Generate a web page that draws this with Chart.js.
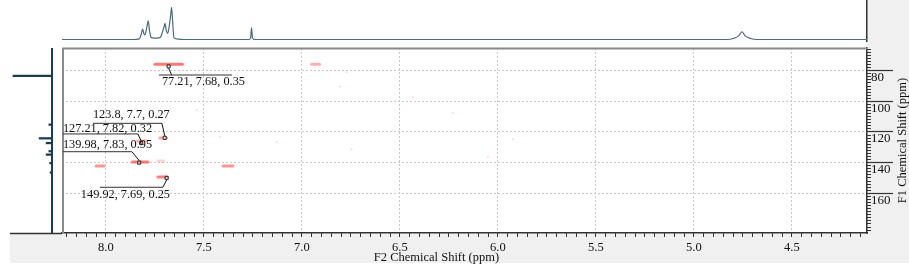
<!DOCTYPE html>
<html>
<head>
<meta charset="utf-8">
<script src="https://cdn.jsdelivr.net/npm/chart.js@4.4.1/dist/chart.umd.min.js"></script>
<style>
  html, body { margin: 0; padding: 0; background: #fff; }
  #wrap { position: relative; width: 909px; height: 265px; overflow: hidden; }
  #wrap canvas { position: absolute; }
  #main { left: 0; top: 0; }
  #top { left: 62px; top: 0; }
  #side { left: 0; top: 48px; }
</style>
</head>
<body>
<div id="wrap">
  <canvas id="main" width="909" height="265"></canvas>
  <canvas id="top" width="809" height="42"></canvas>
  <canvas id="side" width="56" height="185"></canvas>
</div>
<script>
// axis ranges (ppm)
var f2Range = [4.117, 8.224];
var f1Range = [65.2, 185.9];
var f2Ticks = [8.0, 7.5, 7.0, 6.5, 6.0, 5.5, 5.0, 4.5];
var f1Ticks = [80, 100, 120, 140, 160];

// 1H projection (top)
var topPpm = [8.224, 7.86, 7.830, 7.819, 7.813, 7.806, 7.801, 7.792, 7.784, 7.777, 7.770, 7.755, 7.740,
  7.722, 7.712, 7.704, 7.699, 7.692, 7.685, 7.676, 7.668, 7.665, 7.660, 7.653, 7.63, 7.60,
  7.27, 7.262, 7.257, 7.252, 7.24, 4.83, 4.80, 4.77, 4.755, 4.74, 4.71, 4.68, 4.117];
var topInt = [0, 0, 0.02, 0.18, 0.32, 0.18, 0.14, 0.35, 0.58, 0.25, 0.07, 0.04, 0.04,
  0.07, 0.22, 0.38, 0.50, 0.28, 0.19, 0.45, 0.85, 1.0, 0.6, 0.05, 0.01, 0,
  0, 0.05, 0.36, 0.05, 0, 0, 0.03, 0.12, 0.24, 0.12, 0.03, 0, 0];

// 13C projection (left)
var sidePpm = [76.3, 113.5, 123.9, 127.5, 133.7, 136.3, 142.8, 149.9];
var sideInt = [1.0, 0.08, 0.33, 0.15, 0.08, 0.15, 0.06, 0.05];

// cross peaks (contours)
var peakF2 = [7.68, 6.93, 7.707, 7.816, 7.825, 7.712, 8.03, 7.378, 7.72];
var peakF1 = [75.8, 75.8, 123.9, 125.9, 139.6, 149.4, 142.2, 142.2, 139];
var peakW = [0.14, 0.04, 0.035, 0.05, 0.08, 0.045, 0.04, 0.05, 0.03];
var peakInt = [0.9, 0.55, 0.6, 0.5, 0.85, 0.85, 0.7, 0.7, 0.3];

// faint noise spots
var noiseF2 = [6.772, 6.806, 6.435, 6.230, 6.746, 6.051, 5.923, 7.536, 7.418, 7.128];
var noiseF1 = [81.0, 90.4, 97.4, 107.4, 131.3, 136.1, 124.6, 105.6, 123.3, 126.5];

// peak labels
var labelF1 = [77.21, 123.8, 127.21, 139.98, 149.92];
var labelF2 = [7.68, 7.7, 7.82, 7.83, 7.69];
var labelInt = [0.35, 0.27, 0.32, 0.95, 0.25];

// label layout, pixels relative to the marker
var labelLayout = [
  { tx: -6.7, ty: 15, ux1: -9.7, ux2: 63.3, uy: 8.6, lx: 3 },
  { tx: -71.8, ty: -22.8, ux1: -71.8, ux2: -2.8, uy: -14.5, lx: -2.8 },
  { tx: -78.3, ty: -14.6, ux1: -78.3, ux2: -3.3, uy: -9.1, lx: -3.3 },
  { tx: -76.3, ty: -17.6, ux1: -76.3, ux2: -7.3, uy: -10.9, lx: -7.3 },
  { tx: -85.8, ty: 17.1, ux1: -66.8, ux2: -3.8, uy: 9.4, lx: -3.8 }
];

var serif = '"Liberation Serif", "Times New Roman", serif';
var gray = '#f0f0f0';
var axisColor = '#333';

// main 2D plot
var datasets = [];
datasets.push({
  data: labelF2.map(function (v, i) { return { x: v, y: labelF1[i] }; }),
  pointStyle: 'rect', pointRadius: 2.2, borderWidth: 1,
  borderColor: '#222', backgroundColor: 'rgba(255,255,255,0.5)', showLine: false
});
for (var i = 0; i < peakF2.length; i++) {
  datasets.push({
    data: [{ x: peakF2[i] - peakW[i] / 2, y: peakF1[i] }, { x: peakF2[i] + peakW[i] / 2, y: peakF1[i] }],
    showLine: true, pointRadius: 0, borderWidth: 3, borderCapStyle: 'round',
    borderColor: 'rgba(255,55,55,' + (peakInt[i] * 0.75).toFixed(2) + ')'
  });
}
datasets.push({
  data: noiseF2.map(function (v, i) { return { x: v, y: noiseF1[i] }; }),
  pointRadius: 1, borderWidth: 0, backgroundColor: 'rgba(255,120,120,0.3)', showLine: false
});

var framePlugin = {
  id: 'frame',
  beforeDraw: function (chart) {
    var ctx = chart.ctx, a = chart.chartArea;
    ctx.save();
    ctx.fillStyle = gray;
    ctx.fillRect(a.right, 0, 909 - a.right, 263);
    ctx.fillRect(10, a.bottom, a.right - 10, 263 - a.bottom);
    ctx.restore();
  },
  afterDatasetsDraw: function (chart) {
    var ctx = chart.ctx, a = chart.chartArea;
    var sx = chart.scales.x, sy = chart.scales.y;
    ctx.save();
    // left / top frame
    ctx.strokeStyle = '#8a8a8a';
    ctx.lineWidth = 2;
    ctx.beginPath();
    ctx.moveTo(a.left + 1, a.bottom);
    ctx.lineTo(a.left + 1, a.top + 0.5);
    ctx.lineTo(a.right, a.top + 0.5);
    ctx.stroke();
    ctx.strokeStyle = axisColor;
    ctx.lineWidth = 1.5;
    ctx.beginPath();
    ctx.moveTo(10, a.bottom + 0.5);
    ctx.lineTo(a.left, a.bottom + 0.5);
    ctx.stroke();
    // peak labels
    ctx.font = '12.3px ' + serif;
    ctx.textBaseline = 'middle';
    ctx.fillStyle = '#111';
    for (var i = 0; i < labelF1.length; i++) {
      var mx = sx.getPixelForValue(labelF2[i]);
      var my = sy.getPixelForValue(labelF1[i]);
      var L = labelLayout[i];
      ctx.strokeStyle = '#333';
      ctx.lineWidth = 1;
      ctx.beginPath();
      ctx.moveTo(mx + L.ux1, my + L.uy);
      ctx.lineTo(mx + L.ux2, my + L.uy);
      ctx.stroke();
      ctx.strokeStyle = '#111';
      ctx.beginPath();
      ctx.moveTo(mx + L.lx, my + L.uy);
      ctx.lineTo(mx, my + (L.uy > 0 ? 2 : -2));
      ctx.stroke();
      ctx.fillText(labelF1[i] + ', ' + labelF2[i] + ', ' + labelInt[i], mx + L.tx, my + L.ty);
    }
    ctx.restore();
  },
  afterDraw: function (chart) {
    var ctx = chart.ctx, a = chart.chartArea;
    ctx.save();
    ctx.fillStyle = '#111';
    ctx.font = '12.5px ' + serif;
    ctx.textAlign = 'center';
    ctx.textBaseline = 'middle';
    ctx.fillText('F2 Chemical Shift (ppm)', (10 + a.right) / 2 - 2, 257.5);
    ctx.translate(902.5, (a.top + a.bottom) / 2);
    ctx.rotate(-Math.PI / 2);
    ctx.fillText('F1 Chemical Shift (ppm)', 0, 0);
    ctx.restore();
  }
};

new Chart(document.getElementById('main'), {
  type: 'scatter',
  data: { datasets: datasets },
  options: {
    responsive: false,
    animation: false,
    events: [],
    layout: { padding: { left: 62, top: 48, right: 0, bottom: 0 } },
    plugins: { legend: { display: false }, tooltip: { enabled: false } },
    scales: {
      x: {
        type: 'linear', position: 'bottom', weight: 1, reverse: true,
        min: f2Range[0], max: f2Range[1],
        afterBuildTicks: function (s) { s.ticks = f2Ticks.map(function (v) { return { value: v }; }); },
        afterFit: function (s) { s.height = 32; },
        ticks: {
          autoSkip: false, maxRotation: 0, padding: 3, color: '#111',
          font: { family: serif, size: 12.5 },
          callback: function (v) { return v.toFixed(1); }
        },
        grid: { color: '#c8c8c8', lineWidth: 1, tickLength: 4, tickColor: axisColor, tickWidth: 1 },
        border: { color: axisColor, width: 1.5, dash: [2, 2] }
      },
      x2: {
        type: 'linear', position: 'bottom', weight: 0, reverse: true,
        min: f2Range[0], max: f2Range[1],
        afterFit: function (s) { s.height = 0; },
        ticks: { stepSize: 0.05, autoSkip: false, includeBounds: false, callback: function () { return ''; } },
        grid: { drawOnChartArea: false, tickLength: 4, tickColor: axisColor, tickWidth: 1 },
        border: { display: false }
      },
      y: {
        type: 'linear', position: 'right', weight: 1, reverse: true,
        min: f1Range[0], max: f1Range[1],
        afterBuildTicks: function (s) { s.ticks = f1Ticks.map(function (v) { return { value: v }; }); },
        afterFit: function (s) { s.width = 42; },
        ticks: {
          autoSkip: false, padding: -22, labelOffset: 7, color: '#111',
          font: { family: serif, size: 13 }
        },
        grid: { color: '#c8c8c8', lineWidth: 1, tickLength: 26, tickColor: axisColor, tickWidth: 1.2 },
        border: { color: axisColor, width: 1.5, dash: [2, 2] }
      },
      y2: {
        type: 'linear', position: 'right', weight: 0, reverse: true,
        min: f1Range[0], max: f1Range[1],
        afterFit: function (s) { s.width = 0; },
        ticks: { stepSize: 2, autoSkip: false, includeBounds: false, callback: function () { return ''; } },
        grid: { drawOnChartArea: false, tickLength: 4, tickColor: axisColor, tickWidth: 1 },
        border: { display: false }
      }
    }
  },
  plugins: [framePlugin]
});

// top 1H projection
new Chart(document.getElementById('top'), {
  type: 'line',
  data: {
    datasets: [{
      data: topPpm.map(function (v, i) { return { x: v, y: topInt[i] }; }),
      borderColor: '#4d6b77', borderWidth: 1.2, pointRadius: 0,
      cubicInterpolationMode: 'monotone'
    }]
  },
  options: {
    responsive: false,
    animation: false,
    events: [],
    layout: { padding: { left: 0, top: 0, right: 4, bottom: 1 } },
    plugins: { legend: { display: false }, tooltip: { enabled: false } },
    scales: {
      x: { type: 'linear', display: false, reverse: true, min: f2Range[0], max: f2Range[1] },
      y: {
        type: 'linear', position: 'right', min: -0.0466, max: 1.2267,
        afterFit: function (s) { s.width = 0; },
        ticks: { display: false },
        grid: { display: false },
        border: { color: axisColor, width: 1.5 }
      }
    }
  }
});

// left 13C projection
new Chart(document.getElementById('side'), {
  type: 'bar',
  data: {
    datasets: [{
      data: sidePpm.map(function (v, i) { return { x: sideInt[i], y: v }; }),
      backgroundColor: '#1e3c4c', barThickness: 1.6
    }]
  },
  options: {
    indexAxis: 'y',
    responsive: false,
    animation: false,
    events: [],
    layout: { padding: { left: 0, top: 0, right: 4, bottom: 0 } },
    plugins: { legend: { display: false }, tooltip: { enabled: false } },
    scales: {
      x: { type: 'linear', display: false, reverse: true, min: 0, max: 1.333 },
      y: {
        type: 'linear', position: 'right', reverse: true, min: f1Range[0], max: f1Range[1],
        afterFit: function (s) { s.width = 0; },
        ticks: { display: false },
        grid: { display: false },
        border: { color: '#1e3c4c', width: 2 }
      }
    }
  }
});
</script>
</body>
</html>
